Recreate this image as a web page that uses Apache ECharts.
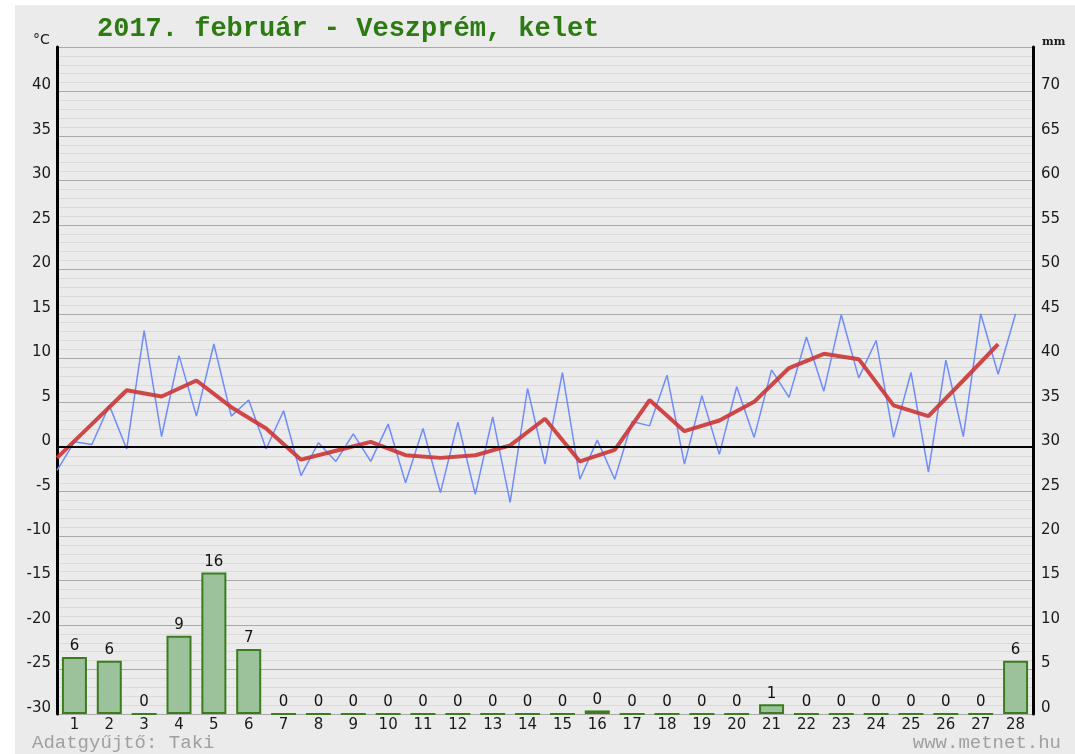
<!DOCTYPE html>
<html>
<head>
<meta charset="utf-8">
<script src="https://cdn.jsdelivr.net/npm/echarts@6/dist/echarts.min.js"></script>
<style>
    body { margin: 0; background: #fff; }
    #main { position: absolute; left: 15px; top: 5px; width: 1060px; height: 749px; background: #ebebeb; }
</style>
</head>
<body>
<div id="main"></div>
<script>
// napok
let days = ['1','2','3','4','5','6','7','8','9','10','11','12','13','14',
    '15','16','17','18','19','20','21','22','23','24','25','26','27','28'];

// csapadek (mm)
let rain = [6.4, 6.0, 0, 8.8, 15.9, 7.3, 0, 0, 0, 0, 0, 0, 0, 0,
    0, 0.4, 0, 0, 0, 0, 1.1, 0, 0, 0, 0, 0, 0, 6.0];

// homerseklet, felnaponta (kek)
let temp = [-2.6, 0.6, 0.3, 4.7, -0.2, 13.1, 1.2, 10.3, 3.5, 11.6, 3.5, 5.3, -0.2, 4.1,
    -3.2, 0.5, -1.6, 1.5, -1.6, 2.6, -4.0, 2.1, -5.1, 2.8, -5.3, 3.4, -6.2, 6.6,
    -1.9, 8.4, -3.6, 0.8, -3.6, 2.9, 2.4, 8.1, -1.9, 5.8, -0.8, 6.8, 1.1, 8.7,
    5.6, 12.4, 6.3, 14.9, 7.8, 12.0, 1.1, 8.4, -2.8, 9.8, 1.2, 15.0, 8.2, 15.0];

// napi kozep (piros)
let mean = [-1.2, 2.6, 6.4, 5.7, 7.5, 4.5, 2.1, -1.4, -0.4, 0.6, -0.9, -1.2, -0.9, 0.2,
    3.2, -1.6, -0.3, 5.3, 1.8, 3.0, 5.1, 8.9, 10.5, 9.9, 4.7, 3.5, 7.5, 11.6];

let font = 'DejaVu Sans';
let mono = 'Liberation Mono';

let myChart = echarts.init(document.getElementById('main'));

let option = {
    animation: false,
    textStyle: {fontFamily: font},
    title: {
        text: '2017. február - Veszprém, kelet',
        left: 77,
        top: 6,
        textStyle: {fontFamily: mono, fontSize: 27, fontWeight: 'bold', color: '#2b7a12'}
    },
    grid: {left: 42, right: 42, top: 42, bottom: 40},
    xAxis: [
        {
            type: 'category',
            data: days,
            axisLine: {show: false},
            axisTick: {show: false},
            axisLabel: {margin: 4, fontSize: 15, color: '#1a1a1a', fontFamily: font}
        },
        {
            type: 'value',
            min: 0,
            max: 28,
            show: false
        }
    ],
    yAxis: [
        {
            type: 'value',
            min: -30,
            max: 45,
            interval: 5,
            axisLine: {show: true, lineStyle: {color: '#000', width: 3}},
            axisTick: {show: false},
            axisLabel: {
                margin: 6, fontSize: 15, color: '#1a1a1a', verticalAlign: 'bottom', lineHeight: 12,
                formatter: function (v) { return v === 45 ? '' : v; }
            },
            splitLine: {lineStyle: {color: '#a9a9a9', width: 1}},
            minorTick: {show: false, splitNumber: 5},
            minorSplitLine: {show: true, lineStyle: {color: '#dadada', width: 1}}
        },
        {
            type: 'value',
            min: 0,
            max: 75,
            interval: 5,
            position: 'right',
            axisLine: {show: true, lineStyle: {color: '#000', width: 3}},
            axisTick: {show: false},
            axisLabel: {
                margin: 8, fontSize: 15, color: '#1a1a1a', verticalAlign: 'bottom', lineHeight: 12,
                formatter: function (v) { return v === 75 ? '' : v; }
            },
            splitLine: {show: false}
        }
    ],
    series: [
        {
            name: 'csapadék',
            type: 'bar',
            xAxisIndex: 0,
            yAxisIndex: 1,
            data: rain,
            barWidth: 25,
            itemStyle: {color: '#9bc29b', borderColor: '#3b7d1c', borderWidth: 2},
            label: {
                show: true,
                position: 'top',
                distance: 3,
                fontSize: 15,
                color: '#111',
                formatter: function (p) { return Math.round(p.value); }
            }
        },
        {
            name: 'hőmérséklet',
            type: 'line',
            xAxisIndex: 1,
            yAxisIndex: 0,
            data: temp.map(function (v, i) { return [i / 2, v]; }),
            symbol: 'none',
            lineStyle: {color: '#6f8cff', width: 1.5},
            markLine: {
                silent: true,
                symbol: 'none',
                label: {show: false},
                lineStyle: {color: '#000', width: 2, type: 'solid'},
                data: [{yAxis: 0}]
            },
            z: 3
        },
        {
            name: 'középhőmérséklet',
            type: 'line',
            xAxisIndex: 1,
            yAxisIndex: 0,
            data: mean.map(function (v, i) { return [i, v]; }),
            symbol: 'none',
            lineStyle: {color: '#cc3535', width: 4, opacity: 0.9},
            z: 4
        }
    ],
    graphic: [
        {type: 'text', left: 18, top: 28, style: {text: '°C', font: '14px ' + font, fill: '#1a1a1a'}},
        {type: 'text', left: 1027, top: 32, style: {text: 'mm', font: 'bold 11px "DejaVu Serif"', fill: '#1a1a1a'}},
        {type: 'text', left: 17, top: 728, style: {text: 'Adatgyűjtő: Taki', font: '19px ' + mono, fill: '#a0a0a0'}},
        {type: 'text', right: 14, top: 728, style: {text: 'www.metnet.hu', font: '19px ' + mono, fill: '#a0a0a0'}}
    ]
};
myChart.setOption(option);
</script>
</body>
</html>
